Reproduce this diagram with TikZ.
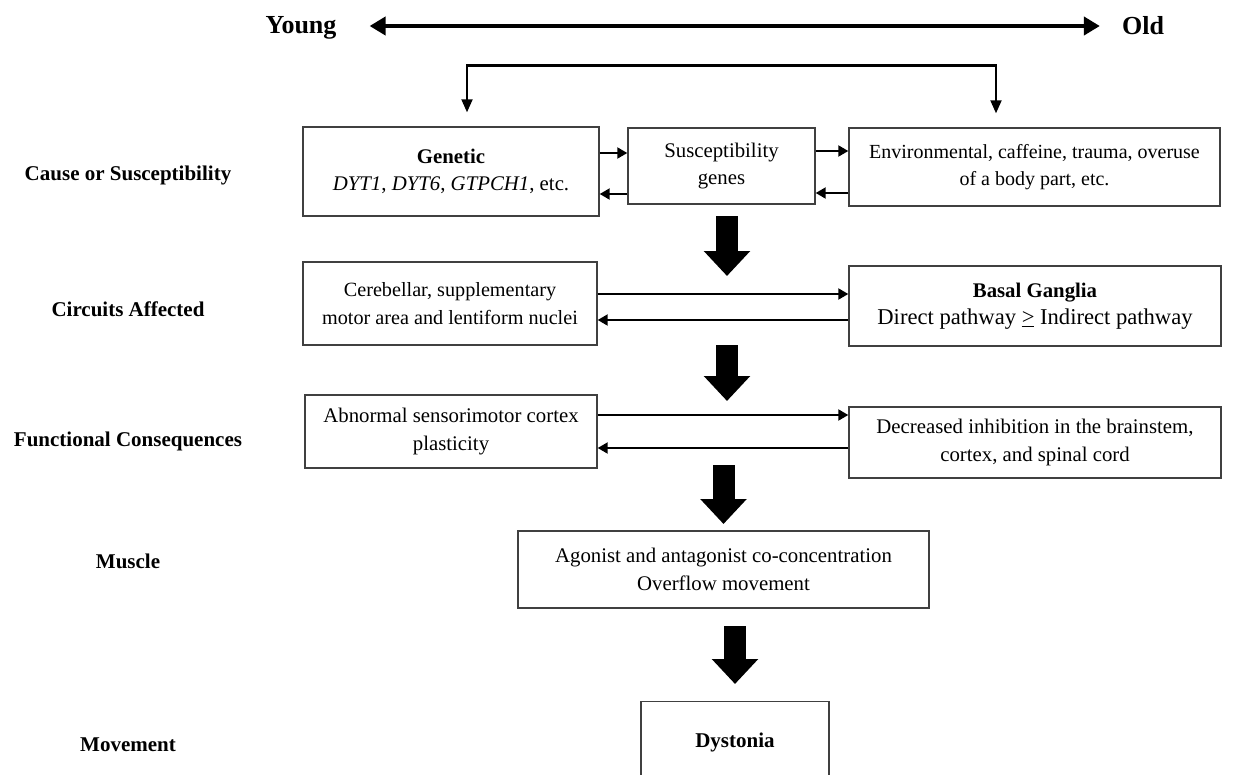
\documentclass[tikz,border=0pt]{standalone}
\usepackage{fontspec}
\setmainfont{Liberation Serif}
\usetikzlibrary{arrows.meta}
\begin{document}
\begin{tikzpicture}[x=1pt,y=-1pt,
  box/.style={draw=black!75, line width=1.4pt, align=center, inner sep=0pt,
    font=\fontsize{20.8}{27.5}\selectfont},
  rowlabel/.style={font=\fontsize{21}{24}\selectfont\bfseries, inner sep=0pt},
  thinarrow/.style={line width=2pt, -{Triangle[length=10pt,width=11pt]}},
  bigarrow/.style={line width=22pt, -{Triangle[length=25pt,width=45pt]}},
  agearrow/.style={line width=4.5pt, {Triangle[length=16pt,width=18pt]}-{Triangle[length=16pt,width=18pt]}},
  bracket/.style={line width=3pt, line cap=butt},
  bracketarrow/.style={line width=2pt, -{Triangle[length=13pt,width=11pt]}}
]
\useasboundingbox (0,0) rectangle (1237,774);

% age axis
\node[font=\fontsize{26}{30}\selectfont\bfseries, inner sep=0pt] (young) at (301,28) {Young};
\node[font=\fontsize{26}{30}\selectfont\bfseries, inner sep=0pt] (old) at (1143,26) {Old};
\draw[agearrow] ([xshift=33pt]young.east |- old.west) -- ([xshift=-22pt]old.west);

% row labels
\node[rowlabel] (l1) at (128,175) {Cause or Susceptibility};
\node[rowlabel] (l2) at (128,309) {Circuits Affected};
\node[rowlabel] (l3) at (128,441) {Functional Consequences};
\node[rowlabel] (l4) at (128,561) {Muscle};
\node[rowlabel] (l5) at (128,745) {Movement};

% row 1
\node[box, minimum width=296pt, minimum height=89pt] (gen) at (451,171.5)
  {\textbf{Genetic}\\\textit{DYT1}, \textit{DYT6}, \textit{GTPCH1}, etc.};
\node[box, minimum width=187pt, minimum height=76pt] (sus) at (721.5,166)
  {Susceptibility\\genes};
\node[box, minimum width=371pt, minimum height=78pt, font=\fontsize{20}{27}\selectfont] (env) at (1034.5,167)
  {Environmental, caffeine, trauma, overuse\\of a body part, etc.};

% bracket
\coordinate (bl) at (467,65);
\coordinate (br) at (996,65);
\draw[bracket] ([xshift=-1pt]bl) -- ([xshift=1pt]br);
\draw[bracketarrow] (bl) -- ([yshift=14pt]bl |- gen.north);
\draw[bracketarrow] (br) -- ([yshift=14pt]br |- env.north);

\draw[thinarrow] (gen.east |- 0,153) -- (sus.west |- 0,153);
\draw[thinarrow] (sus.west |- 0,194) -- (gen.east |- 0,194);
\draw[thinarrow] (sus.east |- 0,151) -- (env.west |- 0,151);
\draw[thinarrow] (env.west |- 0,193) -- (sus.east |- 0,193);

% row 2
\node[box, minimum width=294pt, minimum height=83pt, font=\fontsize{20.2}{27.5}\selectfont] (cer) at (450,303.5)
  {Cerebellar, supplementary\\motor area and lentiform nuclei};
\node[box, minimum width=372pt, minimum height=80pt] (bg) at (1035,306)
  {\textbf{Basal Ganglia}\\{\fontsize{22.6}{27.5}\selectfont Direct pathway \underline{>} Indirect pathway}};
\draw[thinarrow] (cer.east |- 0,294) -- (bg.west |- 0,294);
\draw[thinarrow] (bg.west |- 0,320) -- (cer.east |- 0,320);

% row 3
\node[box, minimum width=292pt, minimum height=73pt] (abn) at (451,431.5)
  {Abnormal sensorimotor cortex\\plasticity};
\node[box, minimum width=372pt, minimum height=71pt] (dec) at (1035,442.5)
  {Decreased inhibition in the brainstem,\\cortex, and spinal cord};
\draw[thinarrow] (abn.east |- 0,415) -- (dec.west |- 0,415);
\draw[thinarrow] (dec.west |- 0,448) -- (abn.east |- 0,448);

% row 4
\node[box, minimum width=411pt, minimum height=77pt] (ago) at (723.5,569.5)
  {Agonist and antagonist co-concentration\\Overflow movement};

% row 5
\node[box, minimum width=188pt, minimum height=100pt, anchor=north] (dys) at (735,701) {};
\node[font=\fontsize{21}{24}\selectfont\bfseries, inner sep=0pt] (dyst) at (735,742) {Dystonia};

% big arrows
\coordinate (a1s) at (727,216); \coordinate (a1e) at (727,276);
\coordinate (a2s) at (727,345); \coordinate (a2e) at (727,401);
\coordinate (a3s) at (723.5,465); \coordinate (a3e) at (723.5,524);
\coordinate (a4s) at (735,626); \coordinate (a4e) at (735,684);
\draw[bigarrow] (a1s) -- (a1e);
\draw[bigarrow] (a2s) -- (a2e);
\draw[bigarrow] (a3s) -- (a3e);
\draw[bigarrow] (a4s) -- (a4e);
\end{tikzpicture}
\end{document}
